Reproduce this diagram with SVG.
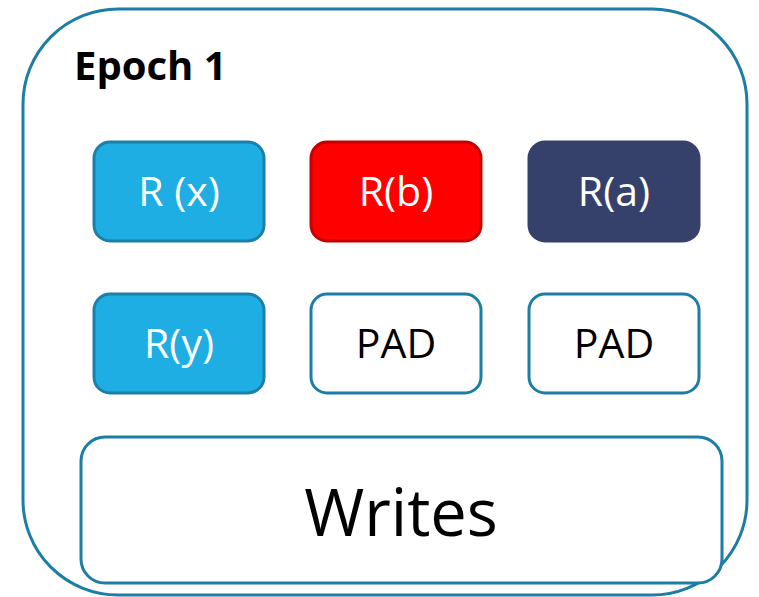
<svg xmlns="http://www.w3.org/2000/svg" width="759" height="597" viewBox="0 0 759 597">
  <style>
    .outer { fill: #ffffff; stroke: #1c7da6; stroke-width: 3; }
    .box { stroke-width: 3; }
    .blue { fill: #1eaee4; stroke: #1a7fa9; }
    .red { fill: #ff0000; stroke: #c40000; }
    .navy { fill: #36416b; stroke: #36416b; }
    .pad { fill: #ffffff; stroke: #1c7da6; }
    .lbl { font-family: "Open Sans", "Liberation Sans", sans-serif; font-size: 41px; text-anchor: middle; }
    .light { fill: #ffffff; }
    .dark { fill: #000000; }
    .title { font-family: "Open Sans", "Liberation Sans", sans-serif; font-size: 40px; font-weight: bold; fill: #000000; }
    .big { font-family: "Open Sans", "Liberation Sans", sans-serif; font-size: 65px; text-anchor: middle; fill: #000000; }
  </style>

  <!-- epoch container -->
  <g id="epoch">
    <rect class="outer" x="23" y="9" width="724" height="586" rx="95" ry="95"/>
    <text class="title" x="74" y="80">Epoch 1</text>
  </g>

  <!-- read slots, first row -->
  <g id="rx">
    <rect class="box blue" x="94" y="142" width="170" height="99" rx="16"/>
    <text class="lbl light" x="179" y="206">R (x)</text>
  </g>
  <g id="rb">
    <rect class="box red" x="311" y="142" width="170" height="99" rx="16"/>
    <text class="lbl light" x="396" y="206">R(b)</text>
  </g>
  <g id="ra">
    <rect class="box navy" x="529" y="142" width="170" height="99" rx="16"/>
    <text class="lbl light" x="614" y="206">R(a)</text>
  </g>

  <!-- read slots, second row -->
  <g id="ry">
    <rect class="box blue" x="94" y="294" width="170" height="99" rx="16"/>
    <text class="lbl light" x="179" y="358">R(y)</text>
  </g>
  <g id="pad1">
    <rect class="box pad" x="311" y="294" width="170" height="99" rx="16"/>
    <text class="lbl dark" x="396" y="358">PAD</text>
  </g>
  <g id="pad2">
    <rect class="box pad" x="529" y="294" width="170" height="99" rx="16"/>
    <text class="lbl dark" x="614" y="358">PAD</text>
  </g>

  <!-- write phase -->
  <g id="writes">
    <rect class="box pad" x="81" y="437" width="641" height="146" rx="24"/>
    <text class="big" x="401" y="536">Writes</text>
  </g>

  <g id="connectors"/>
</svg>
